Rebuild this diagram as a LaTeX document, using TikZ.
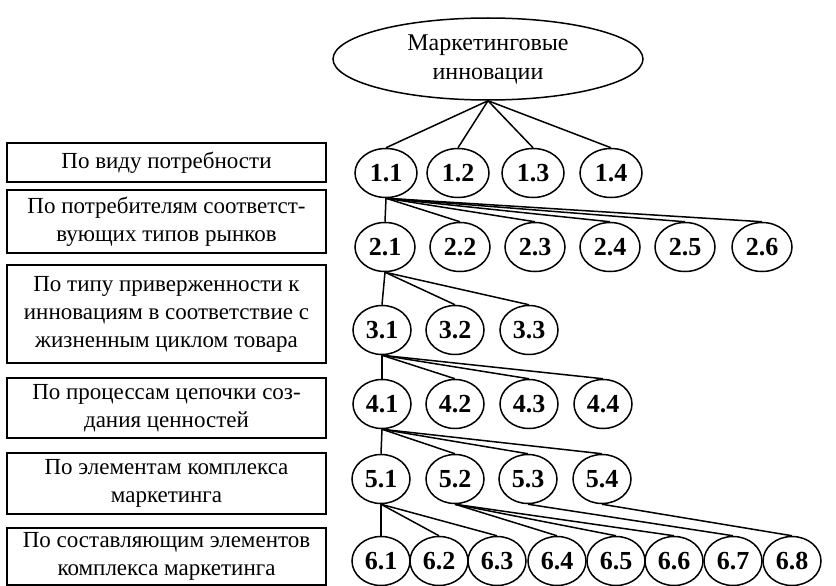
\documentclass[tikz,border=0pt]{standalone}
\usepackage{fontspec}
\setmainfont{Liberation Serif}
\usetikzlibrary{shapes.geometric}
\begin{document}
\begin{tikzpicture}[x=1pt,y=-1pt,
  num/.style={draw, line width=1.5pt, ellipse, minimum width=58pt, minimum height=49pt, inner sep=0pt, font=\fontsize{26}{28}\selectfont\bfseries},
  cat/.style={draw, line width=1.3pt, rectangle, minimum width=319pt, inner sep=0pt, align=center, font=\fontsize{23}{28}\selectfont},
  link/.style={line width=1.5pt}]
\useasboundingbox (0,0) rectangle (836,586);

% root
\node[draw, line width=1.5pt, ellipse, minimum width=310pt, minimum height=82pt, inner sep=0pt, align=center, font=\fontsize{24}{29}\selectfont] (root) at (488,59) {Маркетинговые\\инновации};

% category boxes
\node[cat, minimum height=39pt] (b1) at (166.5,162.5) {По виду потребности};
\node[cat, minimum height=63pt] (b2) at (166.5,221.5) {По потребителям соответст-\\вующих типов рынков};
\node[cat, minimum height=98pt] (b3) at (166.5,314) {По типу приверженности к\\инновациям в соответствие с\\жизненным циклом товара};
\node[cat, minimum height=60pt] (b4) at (166.5,408) {По процессам цепочки соз-\\дания ценностей};
\node[cat, minimum height=61pt] (b5) at (166.5,483.5) {По элементам комплекса\\маркетинга};
\node[cat, minimum height=57pt] (b6) at (166.5,556.5) {По составляющим элементов\\комплекса маркетинга};

% row 1
\foreach \x/\n in {386/1,458/2,533/3,611/4}
  \node[num, minimum width=62pt] (r1c\n) at (\x,173) {1.\n};
% row 2
\foreach \x/\n in {385/1,460/2,535/3,610/4,685/5,762/6}
  \node[num, minimum width=60pt] (r2c\n) at (\x,247) {2.\n};
% row 3
\foreach \x/\n in {382/1,455/2,529/3}
  \node[num] (r3c\n) at (\x,330) {3.\n};
% row 4
\foreach \x/\n in {382/1,455/2,529/3,603/4}
  \node[num] (r4c\n) at (\x,404) {4.\n};
% row 5
\foreach \x/\n in {381/1,455/2,528/3,602/4}
  \node[num] (r5c\n) at (\x,479) {5.\n};
% row 6
\foreach \x/\n in {381/1,439/2,497/3,557/4,616/5,674/6,733/7,792/8}
  \node[num] (r6c\n) at (\x,561) {6.\n};

% connectors
\foreach \n in {1,...,4} \draw[link] (root.south) -- (r1c\n.north);
\foreach \n in {1,...,6} \draw[link] (r1c1.south) -- (r2c\n.north);
\foreach \n in {1,...,3} \draw[link] (r2c1.south) -- (r3c\n.north);
\foreach \n in {1,...,4} \draw[link] (r3c1.south) -- (r4c\n.north);
\foreach \n in {1,...,4} \draw[link] (r4c1.south) -- (r5c\n.north);
\foreach \n in {1,...,3} \draw[link] (r5c1.south) -- (r6c\n.north);
\foreach \n in {4,...,6} \draw[link] (r5c2.south) -- (r6c\n.north);
\draw[link] (r5c3.south) -- (r6c7.north);
\draw[link] (r5c4.south) -- (r6c8.north);
\end{tikzpicture}
\end{document}
